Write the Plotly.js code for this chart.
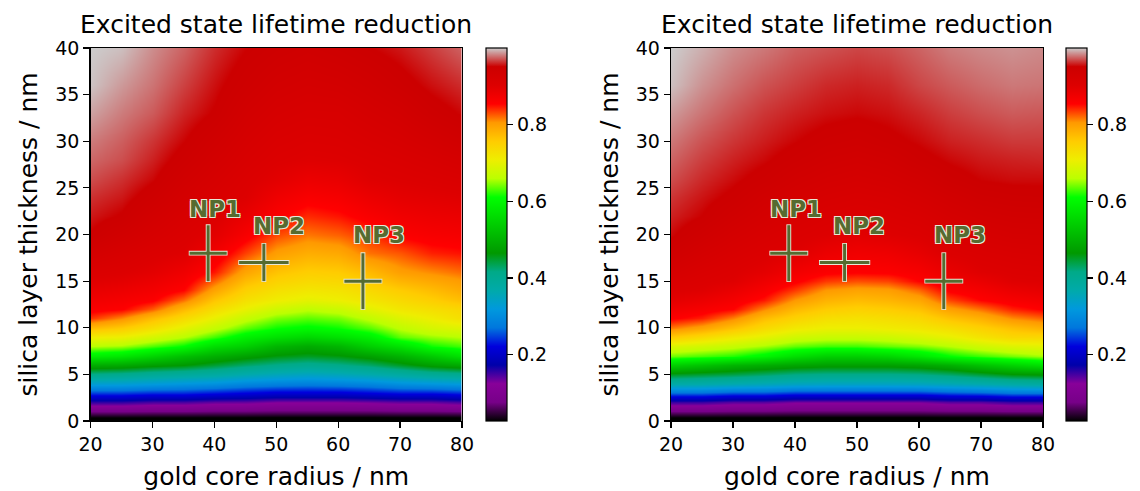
<!DOCTYPE html>
<html>
<head>
<meta charset="utf-8">
<script src="https://cdn.plot.ly/plotly-3.0.1.min.js"></script>
<style>html,body{margin:0;padding:0;background:#fff;}#chart{width:1140px;height:491px;}</style>
</head>
<body>
<div id="chart"></div>
<script>
// ---------- data ----------
const goldRadius = [20,25,30,35,40,45,50,55,60,65,70,75,80];
const silicaThickness = [0,1,2,3,4,5,6,7,8,9,10,11,12,13,14,15,16,18,20,22,24,26,28,30,33,36,40];

const reductionLeft = [
  [.0,.0,.0,.0,.0,.0,.0,.0,.0,.0,.0,.0,.0],
  [.07,.07,.068,.068,.066,.066,.064,.064,.064,.064,.066,.066,.068],
  [.156,.156,.147,.147,.138,.137,.128,.128,.128,.132,.138,.138,.147],
  [.245,.245,.237,.237,.228,.22,.212,.212,.212,.22,.228,.228,.237],
  [.328,.327,.32,.312,.305,.291,.284,.28,.284,.291,.305,.312,.32],
  [.415,.409,.398,.39,.382,.367,.355,.348,.355,.367,.382,.398,.406],
  [.493,.488,.474,.465,.446,.427,.413,.404,.413,.427,.451,.475,.49],
  [.588,.577,.55,.52,.496,.477,.46,.452,.46,.477,.502,.535,.57],
  [.66,.654,.632,.61,.564,.543,.506,.491,.506,.543,.572,.614,.629],
  [.71,.705,.683,.66,.627,.59,.568,.553,.568,.59,.635,.65,.66],
  [.773,.757,.729,.698,.668,.635,.613,.604,.613,.633,.663,.684,.693],
  [.838,.811,.772,.737,.703,.67,.644,.635,.642,.666,.692,.71,.73],
  [.863,.856,.825,.776,.733,.703,.677,.663,.673,.697,.719,.731,.743],
  [.875,.868,.858,.819,.763,.728,.71,.699,.707,.721,.738,.753,.77],
  [.888,.881,.871,.854,.795,.75,.729,.72,.724,.739,.757,.772,.789],
  [.90,.894,.882,.866,.822,.772,.748,.738,.741,.757,.779,.791,.803],
  [.91,.904,.894,.877,.847,.794,.765,.754,.757,.774,.80,.81,.82],
  [.93,.919,.908,.90,.873,.834,.80,.786,.791,.818,.827,.844,.849],
  [.95,.935,.921,.909,.895,.864,.831,.816,.823,.838,.858,.865,.868],
  [.957,.95,.932,.918,.906,.885,.859,.841,.848,.863,.875,.881,.884],
  [.963,.957,.944,.927,.914,.902,.877,.863,.868,.882,.892,.896,.90],
  [.97,.963,.953,.936,.922,.908,.895,.882,.886,.90,.904,.908,.913],
  [.976,.97,.959,.945,.93,.916,.905,.90,.902,.907,.912,.918,.925],
  [.981,.974,.964,.952,.938,.923,.912,.907,.909,.915,.921,.929,.938],
  [.99,.981,.973,.96,.95,.933,.922,.917,.918,.926,.933,.945,.953],
  [.998,.988,.979,.967,.955,.943,.932,.927,.93,.937,.946,.955,.962],
  [1.0,.997,.985,.975,.962,.952,.945,.94,.945,.951,.957,.966,.975]
];

const reductionRight = [
  [.0,.0,.0,.0,.0,.0,.0,.0,.0,.0,.0,.0,.0],
  [.068,.068,.066,.066,.064,.064,.064,.064,.064,.066,.066,.068,.068],
  [.153,.153,.142,.142,.131,.131,.131,.131,.131,.142,.142,.153,.153],
  [.264,.264,.253,.253,.242,.242,.242,.242,.242,.253,.258,.27,.27],
  [.37,.367,.36,.354,.346,.343,.343,.343,.346,.354,.363,.373,.38],
  [.457,.449,.442,.431,.419,.415,.415,.415,.419,.431,.448,.465,.471],
  [.543,.524,.504,.493,.482,.475,.475,.475,.482,.497,.523,.547,.567],
  [.64,.63,.62,.598,.565,.543,.543,.553,.577,.61,.627,.641,.654],
  [.69,.68,.669,.655,.637,.628,.628,.637,.645,.66,.678,.692,.698],
  [.757,.737,.715,.698,.678,.671,.671,.675,.687,.702,.723,.741,.741],
  [.815,.795,.767,.737,.716,.706,.706,.712,.719,.732,.75,.769,.783],
  [.858,.844,.813,.772,.748,.731,.727,.733,.742,.767,.784,.81,.823],
  [.876,.866,.854,.812,.776,.757,.75,.756,.767,.799,.819,.844,.856],
  [.894,.883,.869,.847,.805,.781,.773,.779,.792,.833,.854,.866,.873],
  [.906,.90,.885,.865,.836,.805,.796,.80,.821,.859,.869,.884,.891],
  [.915,.907,.90,.879,.859,.836,.829,.833,.854,.872,.885,.90,.902],
  [.924,.913,.905,.893,.873,.859,.856,.858,.866,.886,.90,.905,.907],
  [.941,.927,.916,.907,.90,.882,.875,.878,.889,.905,.911,.915,.917],
  [.953,.94,.927,.917,.909,.902,.895,.90,.905,.915,.921,.926,.927],
  [.959,.951,.938,.927,.918,.911,.907,.91,.915,.925,.932,.936,.937],
  [.964,.956,.948,.936,.927,.92,.916,.919,.926,.935,.943,.946,.947],
  [.97,.961,.954,.946,.936,.929,.925,.929,.936,.946,.952,.954,.954],
  [.975,.966,.959,.953,.945,.938,.934,.938,.947,.953,.957,.959,.96],
  [.98,.971,.964,.958,.952,.946,.943,.948,.953,.959,.962,.965,.965],
  [.988,.979,.971,.964,.959,.955,.953,.955,.96,.966,.97,.973,.972],
  [.997,.986,.978,.971,.966,.961,.959,.961,.968,.973,.977,.98,.979],
  [1.0,.993,.985,.98,.974,.971,.968,.97,.975,.981,.984,.986,.984]
];

const npNames = ['NP1','NP2','NP3'];
const npRadius = [39,48,64];
const npThickness = [18,17,15];
const npRadiusErr = [3,4,3];
const npThicknessErr = [3,2,3];
const npLabelX = [40.1,50.4,66.6];
const npLabelY = [22.7,20.9,19.9];

const xTickVals = [20,30,40,50,60,70,80];
const yTickVals = [0,5,10,15,20,25,30,35,40];
const cbTickVals = [0.2,0.4,0.6,0.8];
const cbMin = 0.027, cbMax = 1.0;

const plotTitle = 'Excited state lifetime reduction';
const xLabel = 'gold core radius / nm';
const yLabel = 'silica layer thickness / nm';

// ---------- styling ----------
const FONT = 'DejaVu Sans';
const nipySpectral = [
  [0.00,'rgb(0,0,0)'],[0.05,'rgb(119,0,136)'],[0.10,'rgb(136,0,153)'],[0.15,'rgb(0,0,170)'],
  [0.20,'rgb(0,0,221)'],[0.25,'rgb(0,119,221)'],[0.30,'rgb(0,153,221)'],[0.35,'rgb(0,170,170)'],
  [0.40,'rgb(0,170,136)'],[0.45,'rgb(0,153,0)'],[0.50,'rgb(0,187,0)'],[0.55,'rgb(0,221,0)'],
  [0.60,'rgb(0,255,0)'],[0.65,'rgb(187,255,0)'],[0.70,'rgb(238,238,0)'],[0.75,'rgb(255,204,0)'],
  [0.80,'rgb(255,153,0)'],[0.85,'rgb(255,0,0)'],[0.90,'rgb(221,0,0)'],[0.95,'rgb(204,0,0)'],
  [1.00,'rgb(204,204,204)']
];
const W = 1140, H = 491;
const px = (v) => v / W;
const py = (v) => (H - v) / H;

const panels = [
  {z: reductionLeft, xa: 'x', ya: 'y', x0: 90.5, x1: 462, cb0: 486},
  {z: reductionRight, xa: 'x2', ya: 'y2', x0: 671, x1: 1043, cb0: 1066}
];
const yTop = 48, yBot = 421;

const OLIVE = '#566b30';
const OUTLINE = 'rgb(232,232,214)';

const traces = [];
const annotations = [];
const layout = {
  width: W, height: H,
  margin: {l: 0, r: 0, t: 0, b: 0},
  paper_bgcolor: '#fff', plot_bgcolor: '#fff',
  showlegend: false,
  font: {family: FONT, color: '#000'},
  annotations: annotations
};

panels.forEach((p, i) => {
  const sfx = i === 0 ? '' : '2';
  traces.push({
    type: 'heatmap', x: goldRadius, y: silicaThickness, z: p.z,
    xaxis: p.xa, yaxis: p.ya, zsmooth: 'best',
    colorscale: nipySpectral, zmin: cbMin, zmax: cbMax,
    hoverinfo: 'skip',
    colorbar: {
      x: px(p.cb0), xanchor: 'left', xref: 'paper',
      y: py(yBot), yanchor: 'bottom', len: (yBot - yTop) / H, lenmode: 'fraction',
      thickness: 21, thicknessmode: 'pixels', xpad: 0, ypad: 0,
      outlinewidth: 1.2, outlinecolor: '#000',
      tickvals: cbTickVals, ticktext: cbTickVals.map(v => v.toFixed(1)),
      ticks: 'outside', ticklen: 6, tickwidth: 1.2, tickcolor: '#000',
      tickfont: {family: FONT, size: 19, color: '#000'}
    }
  });
  // error-bar crosses: light outline underneath, olive on top
  [[OUTLINE, 4.8, 1], [OLIVE, 3, 0]].forEach(([col, th, ext]) => {
    traces.push({
      type: 'scatter', mode: 'markers', x: npRadius, y: npThickness,
      xaxis: p.xa, yaxis: p.ya,
      marker: {size: 1, color: 'rgba(0,0,0,0)'},
      error_x: {type: 'data', array: npRadiusErr.map(e => e + ext * 0.13), visible: true, thickness: th, width: 0, color: col},
      error_y: {type: 'data', array: npThicknessErr.map(e => e + ext * 0.09), visible: true, thickness: th, width: 0, color: col},
      hoverinfo: 'skip', cliponaxis: false
    });
  });
  npNames.forEach((nm, k) => {
    annotations.push({
      xref: p.xa, yref: p.ya, x: npLabelX[k], y: npLabelY[k],
      text: '<b>' + nm + '</b>', showarrow: false,
      xanchor: 'center', yanchor: 'middle',
      font: {family: FONT, size: 23, color: OLIVE, weight: 700,
        shadow: '-1px -1px 0 ' + OUTLINE + ', 1px -1px 0 ' + OUTLINE + ', -1px 1px 0 ' + OUTLINE + ', 1px 1px 0 ' + OUTLINE}
    });
  });
  annotations.push({
    xref: 'paper', yref: 'paper', x: px((p.x0 + p.x1) / 2), y: py(24),
    text: plotTitle, showarrow: false, xanchor: 'center', yanchor: 'middle',
    font: {family: FONT, size: 25, color: '#000'}
  });
  const axCommon = {
    showline: true, linecolor: '#000', linewidth: 1.3, mirror: true,
    ticks: 'outside', ticklen: 6, tickwidth: 1.2, tickcolor: '#000',
    showgrid: false, zeroline: false,
    tickfont: {family: FONT, size: 19, color: '#000'}
  };
  layout['xaxis' + sfx] = Object.assign({}, axCommon, {
    domain: [px(p.x0), px(p.x1)], range: [20, 80], anchor: 'y' + sfx,
    tickvals: xTickVals,
    title: {text: xLabel, font: {family: FONT, size: 25, color: '#000'}, standoff: 14}
  });
  layout['yaxis' + sfx] = Object.assign({}, axCommon, {
    domain: [py(yBot), py(yTop)], range: [0, 40], anchor: 'x' + sfx,
    tickvals: yTickVals,
    title: {text: yLabel, font: {family: FONT, size: 25, color: '#000'}, standoff: 10}
  });
});

Plotly.newPlot('chart', traces, layout, {staticPlot: true, displayModeBar: false});
</script>
</body>
</html>
